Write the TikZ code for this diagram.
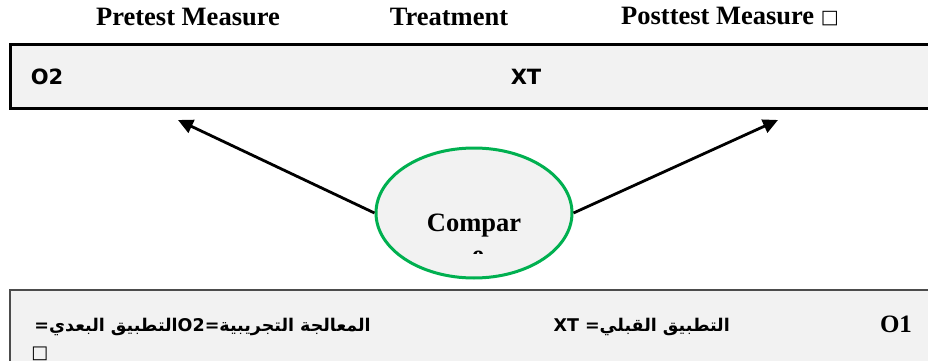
\documentclass[tikz,border=0pt]{standalone}
\usepackage{fontspec}
\setmainfont{Liberation Serif}
\newfontfamily\arabicfont[Script=Arabic]{DejaVu Sans}
\newfontfamily\codefont{DejaVu Sans}
\TeXXeTstate=1
\usetikzlibrary{shapes.geometric,arrows.meta}
\definecolor{panel}{HTML}{F2F2F2}
\definecolor{ringgreen}{HTML}{00B050}
\tikzset{head/.style = {font=\fontsize{26.5}{30}\selectfont\bfseries, inner sep=0}}
\tikzset{code/.style = {font=\codefont\fontsize{21}{24}\selectfont\bfseries, inner sep=0}}
\tikzset{arab/.style = {font=\arabicfont\fontsize{17.5}{22}\selectfont\bfseries, inner sep=0}}
\tikzset{pointer/.style = {-{Triangle[length=15pt,width=14pt]}, line width=2.8pt}}

\begin{document}
\begin{tikzpicture}[x=1pt,y=-1pt]
    \useasboundingbox (0,0) rectangle (928,361);
    % column heads
    \node[head] (pre) at (188,17) {Pretest Measure};
    \node[head] (treat) at (449,17) {Treatment};
    \node[head, anchor=base] (post) at (730,25) {Posttest Measure {\codefont\mdseries\fontsize{19}{20}\selectfont\raisebox{1pt}{□}}};
    % panels
    \draw[line width=3pt, fill=panel] (10,45) rectangle (945,108);
    \draw[line width=2pt, draw=black!70, fill=panel] (10,290) rectangle (945,362);
    \node[code] (otwo) at (47,77) {O2};
    \node[code] (xt) at (526,77) {XT};
    \node[head, font=\fontsize{25}{28}\selectfont\bfseries] (oone) at (896,324) {O1};
    \node[arab, anchor=base east] (pretext) at (730,331) {\beginR التطبيق القبلي= \beginL{\codefont\bfseries XT}\endL\endR};
    \node[arab, anchor=base east] (posttext) at (371,331) {\beginR المعالجة التجريبية=\beginL{\codefont\bfseries O2}\endL التطبيق البعدي=\endR};
    \node[code, font=\codefont\fontsize{18}{20}\selectfont, anchor=north] (blank) at (40,347) {□};
    % comparison
    \node[ellipse, draw=ringgreen, line width=3pt, fill=panel,
          minimum width=196pt, minimum height=130pt, inner sep=0] (cmp) at (474,213) {};
    \node[head, anchor=base] (cmptext) at (474,231) {Compar};
    \begin{scope}
      \clip (420,240) rectangle (530,253);
      \node[head, anchor=base] (cmprest) at (478,263) {e};
    \end{scope}
    \coordinate (lefttip) at (178,120);
    \coordinate (righttip) at (778,120);
    \draw[pointer] (cmp.west) -- (lefttip);
    \draw[pointer] (cmp.east) -- (righttip);
\end{tikzpicture}
\end{document}
